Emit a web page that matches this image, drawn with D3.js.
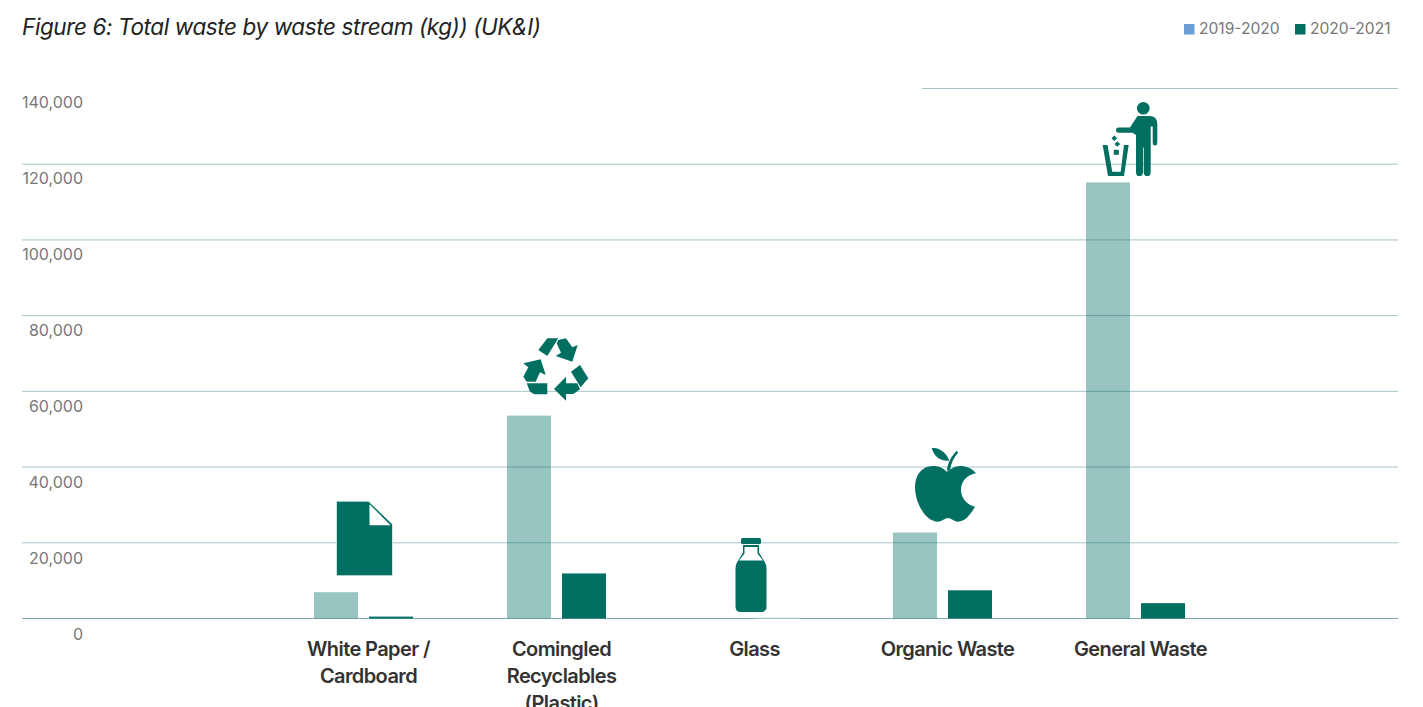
<!DOCTYPE html>
<html><head><meta charset="utf-8">
<script src="https://cdn.jsdelivr.net/npm/d3@7"></script>
<style>
html,body{margin:0;padding:0;background:#fff;overflow:hidden}
svg{display:block}
text{font-family:Inter,"Noto Sans",sans-serif}
</style></head><body><svg id="c" width="1423" height="707"></svg>
<script>
const categories=["White Paper / Cardboard","Comingled Recyclables (Plastic)","Glass","Organic Waste","General Waste"];
const categoryLines=[["White Paper /","Cardboard"],["Comingled","Recyclables","(Plastic)"],["Glass"],["Organic Waste"],["General Waste"]];
const seriesNames=["2019-2020","2020-2021"];
const values2019=[6950,53600,0,22700,115200];
const values2020=[500,11900,250,7450,4050];
const yTicks=[0,20000,40000,60000,80000,100000,120000,140000];
const titleText="Figure 6: Total waste by waste stream (kg)) (UK&I)";

const svg=d3.select("#c");
const dark="#006f62",lightBar="#c9dfdc",legendBlue="#6c9fd8";
const y=d3.scaleLinear().domain([0,140000]).range([618.5,88.5]);
const yLabel=d3.scaleLinear().domain([0,140000]).range([640,107.5]);
const x0=d3.scaleBand().domain(categories).range([267,1232]);
const bw=44, gap=11;
const mid=c=>x0(c)+x0.bandwidth()/2;
const barX=(c,i)=>mid(c)-(bw+gap/2)+i*(bw+gap);

svg.append("text").attr("x",22).attr("y",35).attr("font-size",22.5).attr("font-style","italic").attr("fill","#222").attr("letter-spacing",-0.39).text(titleText);

// grid
const grid=svg.append("g");
yTicks.forEach(t=>{
  grid.append("line").attr("x1",t===140000?922:22).attr("x2",1398).attr("y1",y(t)).attr("y2",y(t))
    .attr("stroke",t===0?"#7ba6b8":"#a6c3ca").attr("stroke-width",1);
});
// y labels
svg.append("g").selectAll("text").data(yTicks).join("text")
  .attr("x",83).attr("y",t=>yLabel(t)).attr("text-anchor","end")
  .attr("font-size",16).attr("fill","#777").text(d3.format(","));

// bars
const g=svg.append("g");
categories.forEach((c,k)=>{
  g.append("rect").attr("x",barX(c,0)).attr("width",bw).attr("y",y(values2019[k])).attr("height",y(0)-y(values2019[k])).attr("fill",dark).attr("fill-opacity",.4);
  g.append("rect").attr("x",barX(c,1)).attr("width",bw).attr("y",y(values2020[k])).attr("height",y(0)-y(values2020[k])).attr("fill",k===2?lightBar:dark);
});

// category labels
categories.forEach((c,k)=>{
  const t=svg.append("text").attr("text-anchor","middle").attr("font-size",20).attr("font-weight",600).attr("letter-spacing",-0.6).attr("fill","#333");
  categoryLines[k].forEach((l,i)=>t.append("tspan").attr("x",mid(c)+5).attr("y",656+i*27).text(l));
});

// icons, anchored on each category and its bar top
const icon=(k,dx,base)=>svg.append("g").attr("transform",`translate(${mid(categories[k])+dx},${y(base)})`).attr("fill",dark);
// document
let d=icon(0,5,values2019[0]);
d.append("path").attr("d","M-32,-91H0L24,-68V-16.5H-32Z").attr("stroke","#e6f0ef").attr("stroke-width",.8);
d.append("path").attr("d","M1,-88V-67H22Z").attr("fill","#fff");
// recycle
d=icon(1,0,values2019[1]);
[
 "M-18.2,-65.6L-9.2,-77.3H1.8L-9.2,-59.6Z",
 "M1.8,-75.6L9.5,-77.3L15.8,-68.3L21.2,-70.6L15.8,-53.9L-0.8,-59.6L4.5,-62.9L0.2,-72.3Z",
 "M23.5,-50.6L31.8,-37.3L24.2,-28.3L14.5,-43.9Z",
 "M-2.5,-26.6L9.5,-38.9V-32.3H20.8L23.5,-26.3L16.8,-21.6H9.5V-14.9Z",
 "M-29.8,-32.3H-9.2V-21.3H-22.2L-26.5,-23.9Z",
 "M-33.2,-52.3L-15.8,-56.3L-10.8,-40.6L-16.5,-43.3L-20.8,-33.9H-29.8L-33.2,-38.9L-28.2,-48.3Z"
].forEach(p=>d.append("path").attr("d",p));
// bottle
d=icon(2,0,0);
d.append("path").attr("d","M-7,-80.5H10Q11.5,-80.5 11.5,-79V-76Q11.5,-74.5 10,-74.5H-7Q-8.5,-74.5 -8.5,-76V-79Q-8.5,-80.5 -7,-80.5Z");
d.append("path").attr("fill-rule","evenodd").attr("d","M-6.5,-73.5H9.5V-66L15,-57Q17,-54 17,-50V-12Q17,-6.5 11.5,-6.5H-8.5Q-14,-6.5 -14,-12V-50Q-14,-54 -12,-57L-6.5,-66ZM-5,-71.5V-65L-10.5,-58H13.5L8,-65V-71.5Z");
// apple
d=icon(3,0,values2019[3]);
d.append("path").attr("d","M4.2,-60.9C-0.5,-65.6 -5.5,-66.6 -9.5,-66.6C-20.5,-66.6 -27.5,-57.6 -27.5,-45.6C-27.5,-30.6 -17.5,-10.9 -4.5,-10.9C-0.5,-10.9 2.5,-14.6 5.5,-14.6C8.5,-14.6 11.5,-10.9 15.5,-10.9C22.5,-10.9 28.5,-18.6 32.5,-25.9C24.5,-27.6 18.5,-34.6 18.5,-42.6C18.5,-51.6 24.5,-57.6 33.5,-59.3C29.5,-64.6 23.5,-66.6 17.5,-66.6C12.5,-66.6 8.5,-63.6 4.2,-60.9Z");
d.append("path").attr("d","M4.2,-62C5.5,-70 9,-77 14.2,-81.6L15.8,-80C11,-75 8.5,-69 7.5,-62Z");
d.append("path").attr("d","M-10.8,-84.3C-4,-86 4,-80 6.8,-71.9C-1,-71 -8,-75 -10.8,-84.3Z");
// person and bin
d=icon(4,0,values2019[4]);
d.append("circle").attr("cx",7.8).attr("cy",-74.1).attr("r",6.3);
d.append("path").attr("d","M2,-66.4H14Q21.8,-66.4 21.8,-58V-39.5Q21.8,-37 19.5,-37Q17.2,-37 17.2,-39.5V-56H15.2V-10Q15.2,-6.4 11.7,-6.4Q8.5,-6.4 8.2,-10V-35H7.5V-10Q7.2,-6.4 4,-6.4Q.5,-6.4 .5,-10V-47.5L-3,-49.7H-17Q-19.5,-49.7 -19.5,-52.4Q-19.5,-55 -17,-55H-5.5Z");
d.append("path").attr("d","M-32.8,-37.4H-28L-23.2,-10.7H-14.8L-11.5,-37.4H-6.8L-11.5,-6.4H-27.5Z");
d.append("rect").attr("x",-21.7).attr("y",-32.6).attr("width",5).attr("height",5);
d.append("rect").attr("x",-20.2).attr("y",-40.4).attr("width",4).attr("height",4).attr("transform","rotate(45 -18.2 -38.4)");
d.append("rect").attr("x",-23.2).attr("y",-46.1).attr("width",4).attr("height",4).attr("transform","rotate(45 -21.2 -44.1)");

// legend
const lg=svg.append("g");
[[1184,1199,legendBlue],[1295,1310,dark]].forEach((a,i)=>{
  lg.append("rect").attr("x",a[0]).attr("y",24).attr("width",10.5).attr("height",10.5).attr("fill",a[2]);
  lg.append("text").attr("x",a[1]).attr("y",34).attr("font-size",15.6).attr("fill","#777").text(seriesNames[i]);
});
</script></body></html>
